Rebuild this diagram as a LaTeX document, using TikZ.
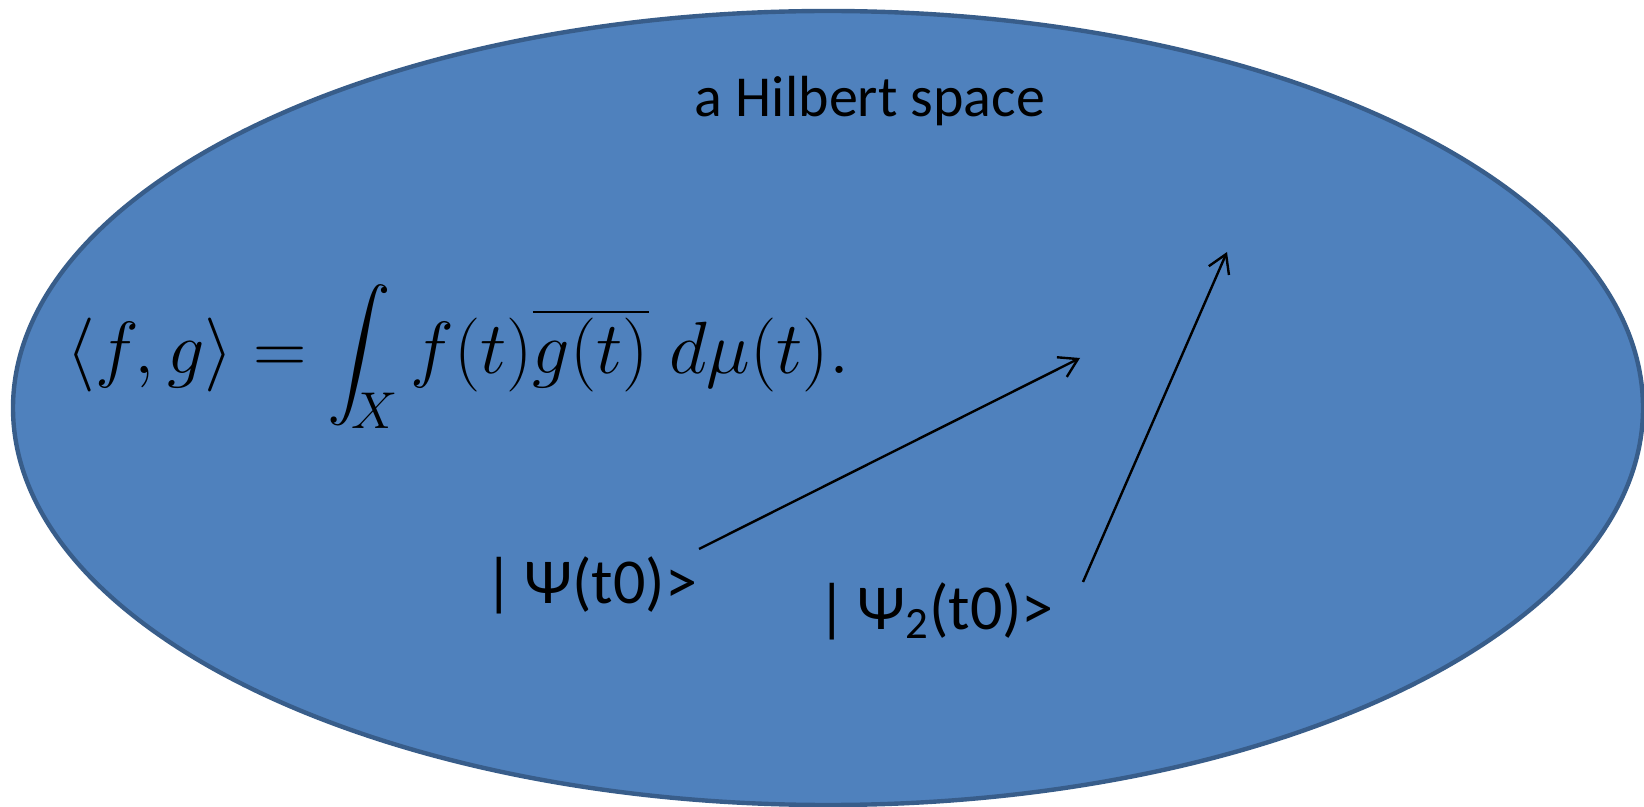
\RequirePackage{fix-cm}
\documentclass[tikz,border=0pt]{standalone}
\usepackage{amsmath,graphicx}
\usepackage[no-math]{fontspec}
\setmainfont{Carlito}
\usetikzlibrary{arrows.meta}
\definecolor{spacefill}{HTML}{4F81BD}
\definecolor{spaceline}{HTML}{385D8A}
% a taller integral sign
\newcommand{\midint}{\mathop{\vcenter{\hbox{\scalebox{1.28}{$\displaystyle\intop$}}}}\nolimits}
\tikzset{
    hilbert/.style={
        draw=spaceline,
        fill=spacefill,
        line width=2.2pt
    },
    title/.style={
        inner sep=0pt,
        font=\fontsize{29}{34}\selectfont
    },
    ket/.style={
        inner sep=0pt,
        font=\fontsize{32}{38}\selectfont
    },
    formula/.style={
        inner sep=0pt,
        font=\fontsize{37}{44}\selectfont
    },
    vec/.style={
        draw,
        -{Straight Barb[length=9pt,width=11pt]},
        line width=1.2pt
    }
}

\begin{document}
\begin{tikzpicture}[x=0.5pt,y=-0.5pt]
    \useasboundingbox (0,0) rectangle (1644,807);
    \draw[hilbert] (828,408) ellipse [x radius=815, y radius=397];

    \node[title, anchor=base] (name) at (870,117) {a Hilbert space};
    \node[formula, anchor=base west] (inner) at (66,374)
        {$\langle f, g\rangle = \midint_{\mkern-14mu X} f(t)\overline{g(t)}\;d\mu(t).$};
    \node[ket, anchor=base west] (psi) at (484,603) {|\,Ψ(t0)>};
    \node[ket, anchor=base west] (psi2) at (817,629) {|\,Ψ\textsubscript{2}(t0)>};

    \coordinate (psi tail) at (699,549);
    \coordinate (psi head) at (1080,358);
    \coordinate (psi2 tail) at (1083,582);
    \coordinate (psi2 head) at (1227,252);

    \draw[vec] (psi tail) -- (psi head);
    \draw[vec] (psi2 tail) -- (psi2 head);
\end{tikzpicture}
\end{document}
